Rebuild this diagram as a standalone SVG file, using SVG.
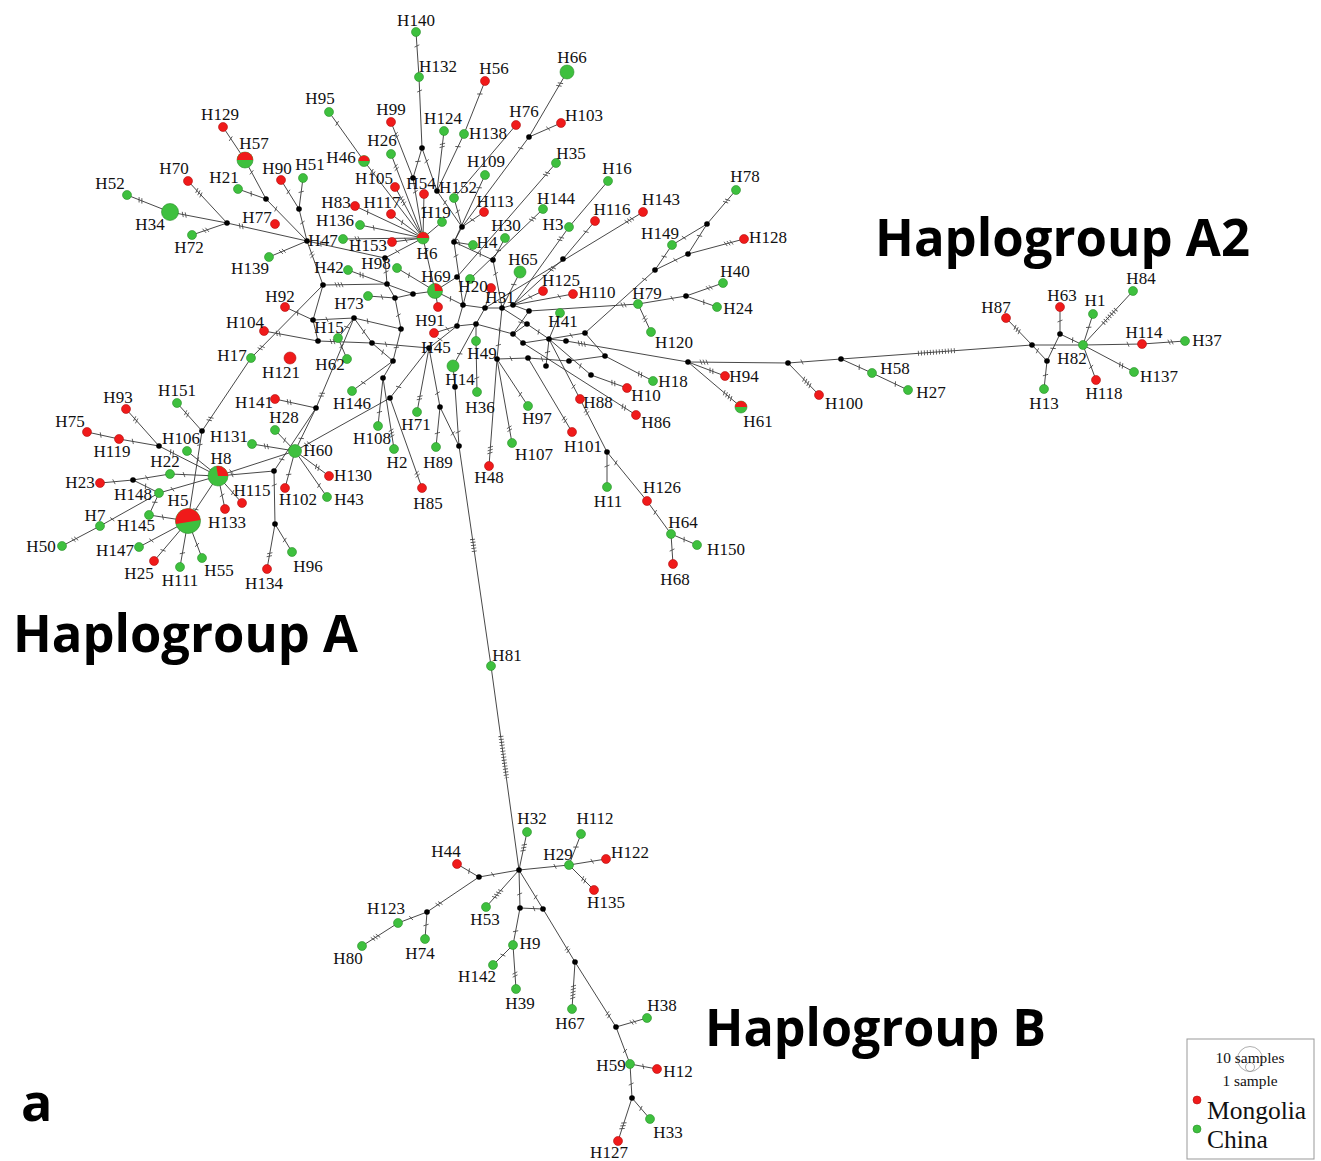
<svg xmlns="http://www.w3.org/2000/svg" width="1321" height="1161" viewBox="0 0 1321 1161">
<style>
.e{stroke:#333;stroke-width:0.9;fill:none}
.k1{marker-start:url(#t1)}.k2{marker-start:url(#t2)}.k3{marker-start:url(#t3)}.k4{marker-start:url(#t4)}.k5{marker-start:url(#t5)}
.tk{stroke:#444;stroke-width:0.8;fill:none}
.h{stroke:#444;stroke-width:5;stroke-dasharray:0.8 2.2;fill:none}
.g{fill:#3ec03e;stroke:#2a8f2a;stroke-width:0.6}
.r{fill:#f01a1a;stroke:#b01010;stroke-width:0.6}
.rp{fill:#f01a1a}
.m{fill:#000}
.lb{font-family:"Liberation Serif","Times New Roman",serif;font-size:17px;text-anchor:middle;fill:#111}
.title{font-family:"Open Sans","Liberation Sans",sans-serif;font-weight:bold;font-size:52px;fill:#000}
.lg{font-family:"Liberation Serif","Times New Roman",serif;fill:#111}
</style>
<defs>
<marker id="t1" markerUnits="userSpaceOnUse" orient="auto" markerWidth="10" markerHeight="10" style="overflow:visible"><path class="tk" d="M13,-2.5L15,2.5"/></marker>
<marker id="t2" markerUnits="userSpaceOnUse" orient="auto" markerWidth="10" markerHeight="10" style="overflow:visible"><path class="tk" d="M12,-2.5L14,2.5M15,-2.5L17,2.5"/></marker>
<marker id="t3" markerUnits="userSpaceOnUse" orient="auto" markerWidth="10" markerHeight="10" style="overflow:visible"><path class="tk" d="M12,-2.5L14,2.5M15,-2.5L17,2.5M18,-2.5L20,2.5"/></marker>
<marker id="t4" markerUnits="userSpaceOnUse" orient="auto" markerWidth="10" markerHeight="10" style="overflow:visible"><path class="tk" d="M12,-2.5L14,2.5M15,-2.5L17,2.5M18,-2.5L20,2.5M21,-2.5L23,2.5"/></marker>
<marker id="t5" markerUnits="userSpaceOnUse" orient="auto" markerWidth="10" markerHeight="10" style="overflow:visible"><path class="tk" d="M10,-2.5L12,2.5M13,-2.5L15,2.5M16,-2.5L18,2.5M19,-2.5L21,2.5M22,-2.5L24,2.5"/></marker>
</defs>
<rect width="1321" height="1161" fill="#fff"/>
<g id="connectors">
<line class="e k2" x1="127" y1="195" x2="170" y2="212"/>
<line class="e k2" x1="170" y1="212" x2="227" y2="223"/>
<line class="e k3" x1="188" y1="181" x2="227" y2="223"/>
<line class="e k2" x1="192" y1="235" x2="227" y2="223"/>
<line class="e k2" x1="227" y1="223" x2="307" y2="241"/>
<line class="e k1" x1="223" y1="127" x2="245" y2="160"/>
<line class="e k1" x1="245" y1="160" x2="266" y2="199"/>
<line class="e k1" x1="238" y1="189" x2="266" y2="199"/>
<line class="e k1" x1="266" y1="199" x2="307" y2="241"/>
<line class="e k1" x1="281" y1="180" x2="299" y2="209"/>
<line class="e k1" x1="303" y1="178" x2="299" y2="209"/>
<line class="e k1" x1="299" y1="209" x2="307" y2="241"/>
<line class="e k2" x1="269" y1="257" x2="307" y2="241"/>
<line class="e k2" x1="307" y1="241" x2="323" y2="285"/>
<line class="e k1" x1="307" y1="241" x2="385" y2="258"/>
<line class="e k1" x1="385" y1="258" x2="423" y2="238"/>
<line class="e k1" x1="385" y1="258" x2="387" y2="284"/>
<line class="e k3" x1="323" y1="285" x2="387" y2="284"/>
<line class="e k2" x1="251" y1="358" x2="323" y2="285"/>
<line class="e k2" x1="202" y1="431" x2="251" y2="358"/>
<line class="e k1" x1="285" y1="307" x2="313" y2="320"/>
<line class="e" x1="313" y1="320" x2="323" y2="285"/>
<line class="e k1" x1="313" y1="320" x2="354" y2="318"/>
<line class="e" x1="313" y1="320" x2="318" y2="341"/>
<line class="e k2" x1="264" y1="331" x2="318" y2="341"/>
<line class="e k2" x1="318" y1="341" x2="372" y2="343"/>
<line class="e k1" x1="347" y1="359" x2="338" y2="338"/>
<line class="e k1" x1="338" y1="338" x2="354" y2="318"/>
<line class="e k1" x1="354" y1="318" x2="401" y2="329"/>
<line class="e k2" x1="316" y1="408" x2="354" y2="318"/>
<line class="e k1" x1="295" y1="451" x2="316" y2="408"/>
<line class="e k2" x1="275" y1="399" x2="316" y2="408"/>
<line class="e k1" x1="274" y1="471" x2="316" y2="408"/>
<line class="e k1" x1="372" y1="343" x2="429" y2="348"/>
<line class="e k1" x1="372" y1="343" x2="393" y2="361"/>
<line class="e k1" x1="372" y1="343" x2="354" y2="318"/>
<line class="e k1" x1="352" y1="391" x2="393" y2="361"/>
<line class="e" x1="383" y1="378" x2="393" y2="361"/>
<line class="e k1" x1="378" y1="426" x2="383" y2="378"/>
<line class="e k3" x1="394" y1="449" x2="383" y2="378"/>
<line class="e k1" x1="393" y1="361" x2="401" y2="329"/>
<line class="e k1" x1="401" y1="329" x2="395" y2="298"/>
<line class="e" x1="395" y1="298" x2="387" y2="284"/>
<line class="e" x1="395" y1="298" x2="413" y2="294"/>
<line class="e k1" x1="368" y1="296" x2="395" y2="298"/>
<line class="e k2" x1="348" y1="270" x2="413" y2="294"/>
<line class="e" x1="413" y1="294" x2="435" y2="291"/>
<line class="e k1" x1="397" y1="268" x2="435" y2="291"/>
<line class="e k2" x1="422" y1="488" x2="390" y2="398"/>
<line class="e k2" x1="295" y1="451" x2="390" y2="398"/>
<line class="e k1" x1="390" y1="398" x2="429" y2="348"/>
<line class="e k1" x1="429" y1="348" x2="457" y2="326"/>
<line class="e k2" x1="417" y1="412" x2="429" y2="348"/>
<line class="e k1" x1="440" y1="407" x2="429" y2="348"/>
<line class="e k1" x1="436" y1="447" x2="440" y2="407"/>
<line class="e k1" x1="459" y1="446" x2="440" y2="407"/>
<line class="e k1" x1="459" y1="446" x2="455" y2="387"/>
<line class="e" x1="455" y1="387" x2="453" y2="366"/>
<line class="e k1" x1="453" y1="366" x2="476" y2="324"/>
<line class="e k1" x1="477" y1="392" x2="476" y2="341"/>
<line class="e" x1="476" y1="341" x2="476" y2="324"/>
<line class="e k3" x1="489" y1="466" x2="497" y2="359"/>
<line class="e k1" x1="497" y1="359" x2="502" y2="308"/>
<line class="e k1" x1="528" y1="406" x2="497" y2="359"/>
<line class="e k2" x1="512" y1="443" x2="497" y2="359"/>
<line class="e k1" x1="497" y1="359" x2="528" y2="358"/>
<line class="e k1" x1="528" y1="358" x2="569" y2="361"/>
<line class="e" x1="569" y1="361" x2="605" y2="356"/>
<line class="e k2" x1="653" y1="381" x2="605" y2="356"/>
<line class="e" x1="605" y1="356" x2="585" y2="333"/>
<line class="e k1" x1="585" y1="333" x2="549" y2="339"/>
<line class="e k1" x1="655" y1="270" x2="585" y2="333"/>
<line class="e k1" x1="546" y1="366" x2="549" y2="339"/>
<line class="e" x1="549" y1="339" x2="566" y2="341"/>
<line class="e k3" x1="566" y1="341" x2="688" y2="362"/>
<line class="e" x1="560" y1="313" x2="549" y2="339"/>
<line class="e k1" x1="580" y1="399" x2="549" y2="339"/>
<line class="e k2" x1="580" y1="399" x2="607" y2="452"/>
<line class="e k1" x1="607" y1="452" x2="607" y2="487"/>
<line class="e k1" x1="607" y1="452" x2="647" y2="501"/>
<line class="e k1" x1="647" y1="501" x2="671" y2="534"/>
<line class="e k1" x1="697" y1="545" x2="671" y2="534"/>
<line class="e k1" x1="673" y1="564" x2="671" y2="534"/>
<line class="e k2" x1="572" y1="432" x2="528" y2="358"/>
<line class="e k2" x1="627" y1="388" x2="591" y2="375"/>
<line class="e k1" x1="591" y1="375" x2="549" y2="339"/>
<line class="e k2" x1="636" y1="415" x2="523" y2="343"/>
<line class="e" x1="523" y1="343" x2="513" y2="334"/>
<line class="e" x1="523" y1="343" x2="549" y2="339"/>
<line class="e k2" x1="725" y1="376" x2="688" y2="362"/>
<line class="e k4" x1="741" y1="407" x2="688" y2="362"/>
<line class="e k3" x1="688" y1="362" x2="788" y2="363"/>
<line class="e k4" x1="819" y1="395" x2="788" y2="363"/>
<line class="e k1" x1="788" y1="363" x2="841" y2="359"/>
<line class="e k1" x1="872" y1="373" x2="841" y2="359"/>
<line class="e k1" x1="908" y1="390" x2="872" y2="373"/>
<line class="e" x1="841" y1="359" x2="1032" y2="345"/>
<line class="h" x1="918" y1="353.3" x2="956" y2="350.5"/>
<line class="e k3" x1="1006" y1="318" x2="1032" y2="345"/>
<line class="e" x1="1032" y1="345" x2="1083" y2="345"/>
<line class="e k1" x1="1047" y1="361" x2="1032" y2="345"/>
<line class="e k1" x1="1044" y1="389" x2="1047" y2="361"/>
<line class="e k1" x1="1047" y1="361" x2="1060" y2="334"/>
<line class="e k1" x1="1060" y1="307" x2="1060" y2="334"/>
<line class="e k1" x1="1060" y1="334" x2="1083" y2="345"/>
<line class="e k1" x1="1093" y1="314" x2="1083" y2="345"/>
<line class="e" x1="1133" y1="291" x2="1083" y2="345"/>
<line class="h" x1="1116" y1="309.4" x2="1102" y2="324.5"/>
<line class="e k1" x1="1142" y1="344" x2="1083" y2="345"/>
<line class="e k2" x1="1185" y1="341" x2="1142" y2="344"/>
<line class="e k2" x1="1134" y1="372" x2="1083" y2="345"/>
<line class="e k1" x1="1096" y1="380" x2="1083" y2="345"/>
<line class="e k2" x1="736" y1="190" x2="707" y2="224"/>
<line class="e k1" x1="672" y1="245" x2="707" y2="224"/>
<line class="e k1" x1="707" y1="224" x2="688" y2="254"/>
<line class="e k3" x1="744" y1="239" x2="688" y2="254"/>
<line class="e k1" x1="688" y1="254" x2="655" y2="270"/>
<line class="e k1" x1="672" y1="245" x2="655" y2="270"/>
<line class="e k2" x1="723" y1="283" x2="686" y2="296"/>
<line class="e k1" x1="717" y1="307" x2="686" y2="296"/>
<line class="e k1" x1="686" y1="296" x2="638" y2="304"/>
<line class="e k2" x1="651" y1="332" x2="638" y2="304"/>
<line class="e k2" x1="638" y1="304" x2="529" y2="311"/>
<line class="e" x1="608" y1="181" x2="569" y2="227"/>
<line class="e k2" x1="569" y1="227" x2="513" y2="305"/>
<line class="e k1" x1="595" y1="221" x2="563" y2="259"/>
<line class="e k2" x1="563" y1="259" x2="513" y2="305"/>
<line class="e k3" x1="643" y1="212" x2="485" y2="308"/>
<line class="e k1" x1="573" y1="294" x2="513" y2="305"/>
<line class="e k1" x1="543" y1="291" x2="513" y2="305"/>
<line class="e k1" x1="520" y1="272" x2="502" y2="308"/>
<line class="e" x1="513" y1="305" x2="502" y2="308"/>
<line class="e" x1="502" y1="308" x2="485" y2="308"/>
<line class="e" x1="485" y1="308" x2="463" y2="305"/>
<line class="e k1" x1="463" y1="305" x2="435" y2="291"/>
<line class="e" x1="529" y1="311" x2="513" y2="305"/>
<line class="e k1" x1="529" y1="311" x2="513" y2="334"/>
<line class="e" x1="527" y1="324" x2="513" y2="334"/>
<line class="e k1" x1="527" y1="324" x2="549" y2="339"/>
<line class="e" x1="527" y1="324" x2="502" y2="308"/>
<line class="e k1" x1="513" y1="334" x2="476" y2="324"/>
<line class="e" x1="476" y1="324" x2="485" y2="308"/>
<line class="e" x1="457" y1="326" x2="463" y2="305"/>
<line class="e" x1="457" y1="326" x2="476" y2="324"/>
<line class="e k2" x1="543" y1="209" x2="470" y2="279"/>
<line class="e" x1="470" y1="279" x2="463" y2="305"/>
<line class="e k2" x1="556" y1="163" x2="457" y2="277"/>
<line class="e" x1="457" y1="277" x2="435" y2="291"/>
<line class="e k1" x1="438" y1="307" x2="435" y2="291"/>
<line class="e k1" x1="434" y1="333" x2="457" y2="326"/>
<line class="e" x1="491" y1="288" x2="485" y2="308"/>
<line class="e" x1="459" y1="446" x2="491" y2="666"/>
<line class="h" x1="472.5" y1="539" x2="474.5" y2="553"/>
<line class="e" x1="491" y1="666" x2="519" y2="870"/>
<line class="h" x1="500.9" y1="736" x2="506.6" y2="778"/>
<line class="e k1" x1="416" y1="32" x2="419" y2="77"/>
<line class="e k1" x1="419" y1="77" x2="422" y2="148"/>
<line class="e k1" x1="422" y1="148" x2="413" y2="178"/>
<line class="e k1" x1="422" y1="148" x2="437" y2="191"/>
<line class="e k2" x1="391" y1="122" x2="413" y2="178"/>
<line class="e k1" x1="413" y1="178" x2="423" y2="238"/>
<line class="e k2" x1="444" y1="131" x2="437" y2="191"/>
<line class="e k1" x1="485" y1="81" x2="464" y2="134"/>
<line class="e k1" x1="464" y1="134" x2="437" y2="191"/>
<line class="e k1" x1="437" y1="191" x2="462" y2="227"/>
<line class="e" x1="516" y1="125" x2="454" y2="198"/>
<line class="e k1" x1="454" y1="198" x2="462" y2="227"/>
<line class="e k2" x1="567" y1="72" x2="529" y2="137"/>
<line class="e k1" x1="561" y1="123" x2="529" y2="137"/>
<line class="e k1" x1="529" y1="137" x2="462" y2="227"/>
<line class="e k1" x1="485" y1="175" x2="454" y2="242"/>
<line class="e k1" x1="484" y1="212" x2="462" y2="227"/>
<line class="e k1" x1="462" y1="227" x2="454" y2="242"/>
<line class="e k1" x1="473" y1="245" x2="454" y2="242"/>
<line class="e k1" x1="505" y1="238" x2="493" y2="260"/>
<line class="e k1" x1="493" y1="260" x2="454" y2="242"/>
<line class="e k1" x1="493" y1="260" x2="502" y2="308"/>
<line class="e k1" x1="454" y1="242" x2="463" y2="305"/>
<line class="e k2" x1="391" y1="154" x2="423" y2="238"/>
<line class="e k1" x1="329" y1="112" x2="364" y2="161"/>
<line class="e k2" x1="364" y1="161" x2="423" y2="238"/>
<line class="e k3" x1="395" y1="187" x2="423" y2="238"/>
<line class="e k1" x1="424" y1="194" x2="423" y2="238"/>
<line class="e k1" x1="355" y1="206" x2="423" y2="238"/>
<line class="e k1" x1="391" y1="214" x2="423" y2="238"/>
<line class="e k1" x1="360" y1="225" x2="423" y2="238"/>
<line class="e k1" x1="392" y1="242" x2="423" y2="238"/>
<line class="e" x1="442" y1="222" x2="423" y2="238"/>
<line class="e k2" x1="343" y1="239" x2="423" y2="238"/>
<line class="e k1" x1="423" y1="238" x2="435" y2="291"/>
<line class="e k2" x1="177" y1="403" x2="202" y2="431"/>
<line class="e k1" x1="202" y1="431" x2="188" y2="521"/>
<line class="e k2" x1="126" y1="409" x2="159" y2="446"/>
<line class="e k1" x1="87" y1="432" x2="119" y2="439"/>
<line class="e k1" x1="119" y1="439" x2="159" y2="446"/>
<line class="e k2" x1="159" y1="446" x2="218" y2="476"/>
<line class="e k1" x1="187" y1="451" x2="218" y2="476"/>
<line class="e k1" x1="100" y1="483" x2="133" y2="480"/>
<line class="e k1" x1="133" y1="480" x2="170" y2="474"/>
<line class="e k1" x1="170" y1="474" x2="218" y2="476"/>
<line class="e k1" x1="133" y1="480" x2="159" y2="493"/>
<line class="e k1" x1="159" y1="493" x2="218" y2="476"/>
<line class="e k1" x1="100" y1="526" x2="159" y2="493"/>
<line class="e k2" x1="62" y1="546" x2="100" y2="526"/>
<line class="e k1" x1="149" y1="515" x2="159" y2="493"/>
<line class="e k1" x1="149" y1="515" x2="188" y2="521"/>
<line class="e k1" x1="188" y1="521" x2="218" y2="476"/>
<line class="e k1" x1="139" y1="547" x2="188" y2="521"/>
<line class="e k1" x1="154" y1="561" x2="188" y2="521"/>
<line class="e k1" x1="180" y1="567" x2="188" y2="521"/>
<line class="e k1" x1="202" y1="558" x2="188" y2="521"/>
<line class="e k1" x1="242" y1="503" x2="218" y2="476"/>
<line class="e k1" x1="225" y1="509" x2="218" y2="476"/>
<line class="e k1" x1="218" y1="476" x2="274" y2="471"/>
<line class="e k1" x1="274" y1="471" x2="275" y2="524"/>
<line class="e k2" x1="267" y1="569" x2="275" y2="524"/>
<line class="e k1" x1="292" y1="552" x2="275" y2="524"/>
<line class="e k1" x1="218" y1="476" x2="295" y2="451"/>
<line class="e k1" x1="275" y1="430" x2="295" y2="451"/>
<line class="e k2" x1="252" y1="444" x2="295" y2="451"/>
<line class="e k2" x1="329" y1="476" x2="295" y2="451"/>
<line class="e k1" x1="327" y1="497" x2="295" y2="451"/>
<line class="e k1" x1="285" y1="488" x2="295" y2="451"/>
<line class="e k3" x1="527" y1="832" x2="519" y2="870"/>
<line class="e k1" x1="569" y1="865" x2="519" y2="870"/>
<line class="e k1" x1="581" y1="834" x2="569" y2="865"/>
<line class="e k1" x1="606" y1="859" x2="569" y2="865"/>
<line class="e k2" x1="594" y1="890" x2="569" y2="865"/>
<line class="e k1" x1="479" y1="877" x2="519" y2="870"/>
<line class="e k1" x1="457" y1="864" x2="479" y2="877"/>
<line class="e k2" x1="427" y1="912" x2="479" y2="877"/>
<line class="e k1" x1="398" y1="923" x2="427" y2="912"/>
<line class="e k3" x1="362" y1="946" x2="398" y2="923"/>
<line class="e k1" x1="425" y1="939" x2="427" y2="912"/>
<line class="e k4" x1="486" y1="907" x2="519" y2="870"/>
<line class="e k1" x1="520" y1="908" x2="519" y2="870"/>
<line class="e k1" x1="520" y1="908" x2="543" y2="909"/>
<line class="e k1" x1="513" y1="945" x2="520" y2="908"/>
<line class="e k1" x1="493" y1="965" x2="513" y2="945"/>
<line class="e k2" x1="516" y1="989" x2="513" y2="945"/>
<line class="e k1" x1="543" y1="909" x2="519" y2="870"/>
<line class="e k2" x1="575" y1="962" x2="543" y2="909"/>
<line class="e k5" x1="572" y1="1009" x2="575" y2="962"/>
<line class="e k2" x1="616" y1="1027" x2="575" y2="962"/>
<line class="e k2" x1="647" y1="1018" x2="616" y2="1027"/>
<line class="e k1" x1="630" y1="1064" x2="616" y2="1027"/>
<line class="e k1" x1="657" y1="1069" x2="630" y2="1064"/>
<line class="e k1" x1="632" y1="1098" x2="630" y2="1064"/>
<line class="e k1" x1="650" y1="1119" x2="632" y2="1098"/>
<line class="e k3" x1="618" y1="1141" x2="632" y2="1098"/>
</g>
<g id="medians">
<circle class="m" cx="227" cy="223" r="2.8"/><circle class="m" cx="266" cy="199" r="2.8"/><circle class="m" cx="299" cy="209" r="2.8"/><circle class="m" cx="307" cy="241" r="2.8"/>
<circle class="m" cx="323" cy="285" r="2.8"/><circle class="m" cx="313" cy="320" r="2.8"/><circle class="m" cx="318" cy="341" r="2.8"/><circle class="m" cx="354" cy="318" r="2.8"/>
<circle class="m" cx="372" cy="343" r="2.8"/><circle class="m" cx="393" cy="361" r="2.8"/><circle class="m" cx="383" cy="378" r="2.8"/><circle class="m" cx="390" cy="398" r="2.8"/>
<circle class="m" cx="401" cy="329" r="2.8"/><circle class="m" cx="387" cy="284" r="2.8"/><circle class="m" cx="395" cy="298" r="2.8"/><circle class="m" cx="413" cy="294" r="2.8"/>
<circle class="m" cx="385" cy="258" r="2.8"/><circle class="m" cx="422" cy="148" r="2.8"/><circle class="m" cx="413" cy="178" r="2.8"/><circle class="m" cx="437" cy="191" r="2.8"/>
<circle class="m" cx="462" cy="227" r="2.8"/><circle class="m" cx="454" cy="242" r="2.8"/><circle class="m" cx="493" cy="260" r="2.8"/><circle class="m" cx="529" cy="137" r="2.8"/>
<circle class="m" cx="563" cy="259" r="2.8"/><circle class="m" cx="655" cy="270" r="2.8"/><circle class="m" cx="707" cy="224" r="2.8"/><circle class="m" cx="688" cy="254" r="2.8"/>
<circle class="m" cx="686" cy="296" r="2.8"/><circle class="m" cx="463" cy="305" r="2.8"/><circle class="m" cx="485" cy="308" r="2.8"/><circle class="m" cx="502" cy="308" r="2.8"/>
<circle class="m" cx="513" cy="305" r="2.8"/><circle class="m" cx="529" cy="311" r="2.8"/><circle class="m" cx="457" cy="326" r="2.8"/><circle class="m" cx="476" cy="324" r="2.8"/>
<circle class="m" cx="527" cy="324" r="2.8"/><circle class="m" cx="513" cy="334" r="2.8"/><circle class="m" cx="429" cy="348" r="2.8"/><circle class="m" cx="497" cy="359" r="2.8"/>
<circle class="m" cx="455" cy="387" r="2.8"/><circle class="m" cx="440" cy="407" r="2.8"/><circle class="m" cx="459" cy="446" r="2.8"/><circle class="m" cx="316" cy="408" r="2.8"/>
<circle class="m" cx="202" cy="431" r="2.8"/><circle class="m" cx="159" cy="446" r="2.8"/><circle class="m" cx="133" cy="480" r="2.8"/><circle class="m" cx="274" cy="471" r="2.8"/>
<circle class="m" cx="275" cy="524" r="2.8"/><circle class="m" cx="549" cy="339" r="2.8"/><circle class="m" cx="585" cy="333" r="2.8"/><circle class="m" cx="566" cy="341" r="2.8"/>
<circle class="m" cx="523" cy="343" r="2.8"/><circle class="m" cx="528" cy="358" r="2.8"/><circle class="m" cx="546" cy="366" r="2.8"/><circle class="m" cx="569" cy="361" r="2.8"/>
<circle class="m" cx="605" cy="356" r="2.8"/><circle class="m" cx="591" cy="375" r="2.8"/><circle class="m" cx="688" cy="362" r="2.8"/><circle class="m" cx="788" cy="363" r="2.8"/>
<circle class="m" cx="841" cy="359" r="2.8"/><circle class="m" cx="607" cy="452" r="2.8"/><circle class="m" cx="1032" cy="345" r="2.8"/><circle class="m" cx="1060" cy="334" r="2.8"/>
<circle class="m" cx="1047" cy="361" r="2.8"/><circle class="m" cx="457" cy="277" r="2.8"/>
<circle class="m" cx="519" cy="870" r="2.8"/><circle class="m" cx="479" cy="877" r="2.8"/><circle class="m" cx="427" cy="912" r="2.8"/><circle class="m" cx="520" cy="908" r="2.8"/>
<circle class="m" cx="543" cy="909" r="2.8"/><circle class="m" cx="575" cy="962" r="2.8"/><circle class="m" cx="616" cy="1027" r="2.8"/><circle class="m" cx="632" cy="1098" r="2.8"/>
</g>
<g id="nodes">
<g id="H140"><circle class="g" cx="416" cy="32" r="4.5"/><text class="lb" x="416" y="26">H140</text></g>
<g id="H132"><circle class="g" cx="419" cy="77" r="4.5"/><text class="lb" x="438" y="72">H132</text></g>
<g id="H56"><circle class="r" cx="485" cy="81" r="4.5"/><text class="lb" x="494" y="74">H56</text></g>
<g id="H66"><circle class="g" cx="567" cy="72" r="7"/><text class="lb" x="572" y="63">H66</text></g>
<g id="H95"><circle class="g" cx="329" cy="112" r="4.5"/><text class="lb" x="320" y="104">H95</text></g>
<g id="H99"><circle class="r" cx="391" cy="122" r="4.5"/><text class="lb" x="391" y="115">H99</text></g>
<g id="H124"><circle class="g" cx="444" cy="131" r="4.5"/><text class="lb" x="443" y="124">H124</text></g>
<g id="H138"><circle class="g" cx="464" cy="134" r="4.5"/><text class="lb" x="488" y="139">H138</text></g>
<g id="H76"><circle class="r" cx="516" cy="125" r="4.5"/><text class="lb" x="524" y="117">H76</text></g>
<g id="H103"><circle class="r" cx="561" cy="123" r="4.5"/><text class="lb" x="584" y="121">H103</text></g>
<g id="H129"><circle class="r" cx="223" cy="127" r="4.5"/><text class="lb" x="220" y="120">H129</text></g>
<g id="H57"><circle class="g" cx="245" cy="160" r="8"/><path class="rp" d="M237,160A8,8 0 0 1 253,160Z"/><text class="lb" x="254" y="149">H57</text></g>
<g id="H26"><circle class="g" cx="391" cy="154" r="4.5"/><text class="lb" x="382" y="146">H26</text></g>
<g id="H46"><circle class="g" cx="364" cy="161" r="5.5"/><path class="rp" d="M358.5,161A5.5,5.5 0 0 1 369.5,161Z"/><text class="lb" x="341" y="163">H46</text></g>
<g id="H109"><circle class="g" cx="485" cy="175" r="4.5"/><text class="lb" x="486" y="167">H109</text></g>
<g id="H35"><circle class="g" cx="556" cy="163" r="4.5"/><text class="lb" x="571" y="159">H35</text></g>
<g id="H16"><circle class="g" cx="608" cy="181" r="4.5"/><text class="lb" x="617" y="174">H16</text></g>
<g id="H70"><circle class="r" cx="188" cy="181" r="4.5"/><text class="lb" x="174" y="174">H70</text></g>
<g id="H21"><circle class="g" cx="238" cy="189" r="4.5"/><text class="lb" x="224" y="183">H21</text></g>
<g id="H90"><circle class="r" cx="281" cy="180" r="4.5"/><text class="lb" x="277" y="174">H90</text></g>
<g id="H51"><circle class="g" cx="303" cy="178" r="4.5"/><text class="lb" x="310" y="170">H51</text></g>
<g id="H52"><circle class="g" cx="127" cy="195" r="4.5"/><text class="lb" x="110" y="189">H52</text></g>
<g id="H34"><circle class="g" cx="170" cy="212" r="8.5"/><text class="lb" x="150" y="230">H34</text></g>
<g id="H72"><circle class="g" cx="192" cy="235" r="4.5"/><text class="lb" x="189" y="253">H72</text></g>
<g id="H77"><circle class="r" cx="275" cy="224" r="4.5"/><text class="lb" x="257" y="223">H77</text></g>
<g id="H139"><circle class="g" cx="269" cy="257" r="4.5"/><text class="lb" x="250" y="274">H139</text></g>
<g id="H105"><circle class="r" cx="395" cy="187" r="4.5"/><text class="lb" x="374" y="184">H105</text></g>
<g id="H54"><circle class="r" cx="424" cy="194" r="4.5"/><text class="lb" x="421" y="189">H54</text></g>
<g id="H152"><circle class="g" cx="454" cy="198" r="4.5"/><text class="lb" x="458" y="193">H152</text></g>
<g id="H83"><circle class="r" cx="355" cy="206" r="4.5"/><text class="lb" x="336" y="208">H83</text></g>
<g id="H117"><circle class="r" cx="391" cy="214" r="4.5"/><text class="lb" x="382" y="208">H117</text></g>
<g id="H136"><circle class="g" cx="360" cy="225" r="4.5"/><text class="lb" x="335" y="226">H136</text></g>
<g id="H113"><circle class="r" cx="484" cy="212" r="4.5"/><text class="lb" x="495" y="207">H113</text></g>
<g id="H144"><circle class="g" cx="543" cy="209" r="4.5"/><text class="lb" x="556" y="204">H144</text></g>
<g id="H143"><circle class="r" cx="643" cy="212" r="4.5"/><text class="lb" x="661" y="205">H143</text></g>
<g id="H78"><circle class="g" cx="736" cy="190" r="4.5"/><text class="lb" x="745" y="182">H78</text></g>
<g id="H116"><circle class="r" cx="595" cy="221" r="4.5"/><text class="lb" x="612" y="215">H116</text></g>
<g id="H3"><circle class="g" cx="569" cy="227" r="4.5"/><text class="lb" x="553" y="230">H3</text></g>
<g id="H19"><circle class="g" cx="442" cy="222" r="4.5"/><text class="lb" x="436" y="218">H19</text></g>
<g id="H30"><circle class="g" cx="505" cy="238" r="4.5"/><text class="lb" x="506" y="231">H30</text></g>
<g id="H4"><circle class="g" cx="473" cy="245" r="4.5"/><text class="lb" x="487" y="248">H4</text></g>
<g id="H6"><circle class="g" cx="423" cy="238" r="6"/><path class="rp" d="M417,238A6,6 0 0 1 429,238Z"/><text class="lb" x="427" y="259">H6</text></g>
<g id="H153"><circle class="r" cx="392" cy="242" r="4.5"/><text class="lb" x="368" y="251">H153</text></g>
<g id="H47"><circle class="g" cx="343" cy="239" r="4.5"/><text class="lb" x="323" y="246">H47</text></g>
<g id="H149"><circle class="g" cx="672" cy="245" r="4.5"/><text class="lb" x="660" y="239">H149</text></g>
<g id="H128"><circle class="r" cx="744" cy="239" r="4.5"/><text class="lb" x="768" y="243">H128</text></g>
<g id="H98"><circle class="g" cx="397" cy="268" r="4.5"/><text class="lb" x="376" y="269">H98</text></g>
<g id="H42"><circle class="g" cx="348" cy="270" r="4.5"/><text class="lb" x="329" y="273">H42</text></g>
<g id="H65"><circle class="g" cx="520" cy="272" r="6"/><text class="lb" x="523" y="265">H65</text></g>
<g id="H40"><circle class="g" cx="723" cy="283" r="4.5"/><text class="lb" x="735" y="277">H40</text></g>
<g id="H69"><circle class="g" cx="435" cy="291" r="7.5"/><path class="rp" d="M435,291L434.3,283.5A7.5,7.5 0 0 1 442.5,291Z"/><text class="lb" x="436" y="282">H69</text></g>
<g id="H20"><circle class="g" cx="470" cy="279" r="4.5"/><circle class="r" cx="491" cy="288" r="4.5"/><text class="lb" x="473" y="292">H20</text></g>
<g id="H31"><text class="lb" x="500" y="303">H31</text></g>
<g id="H125"><circle class="r" cx="543" cy="291" r="4.5"/><text class="lb" x="561" y="286">H125</text></g>
<g id="H110"><circle class="r" cx="573" cy="294" r="4.5"/><text class="lb" x="597" y="298">H110</text></g>
<g id="H79"><circle class="g" cx="638" cy="304" r="4.5"/><text class="lb" x="647" y="299">H79</text></g>
<g id="H24"><circle class="g" cx="717" cy="307" r="4.5"/><text class="lb" x="738" y="314">H24</text></g>
<g id="H92"><circle class="r" cx="285" cy="307" r="4.5"/><text class="lb" x="280" y="302">H92</text></g>
<g id="H73"><circle class="g" cx="368" cy="296" r="4.5"/><text class="lb" x="349" y="309">H73</text></g>
<g id="H91"><circle class="r" cx="438" cy="307" r="4.5"/><circle class="r" cx="434" cy="333" r="4.5"/><text class="lb" x="430" y="326">H91</text></g>
<g id="H41"><circle class="g" cx="560" cy="313" r="4.5"/><text class="lb" x="563" y="327">H41</text></g>
<g id="H104"><circle class="r" cx="264" cy="331" r="4.5"/><text class="lb" x="245" y="328">H104</text></g>
<g id="H15"><circle class="g" cx="338" cy="338" r="4.5"/><text class="lb" x="329" y="333">H15</text></g>
<g id="H120"><circle class="g" cx="651" cy="332" r="4.5"/><text class="lb" x="674" y="348">H120</text></g>
<g id="H45"><text class="lb" x="436" y="353">H45</text></g>
<g id="H49"><circle class="g" cx="476" cy="341" r="4.5"/><text class="lb" x="482" y="359">H49</text></g>
<g id="H17"><circle class="g" cx="251" cy="358" r="4.5"/><text class="lb" x="232" y="361">H17</text></g>
<g id="H121"><circle class="r" cx="290" cy="358" r="6"/><text class="lb" x="281" y="378">H121</text></g>
<g id="H62"><circle class="g" cx="347" cy="359" r="4.5"/><text class="lb" x="330" y="370">H62</text></g>
<g id="H14"><circle class="g" cx="453" cy="366" r="6"/><text class="lb" x="460" y="385">H14</text></g>
<g id="H18"><circle class="g" cx="653" cy="381" r="4.5"/><text class="lb" x="673" y="387">H18</text></g>
<g id="H94"><circle class="r" cx="725" cy="376" r="4.5"/><text class="lb" x="744" y="382">H94</text></g>
<g id="H10"><circle class="r" cx="627" cy="388" r="4.5"/><text class="lb" x="646" y="401">H10</text></g>
<g id="H36"><circle class="g" cx="477" cy="392" r="4.5"/><text class="lb" x="480" y="413">H36</text></g>
<g id="H146"><circle class="g" cx="352" cy="391" r="4.5"/><text class="lb" x="352" y="409">H146</text></g>
<g id="H141"><circle class="r" cx="275" cy="399" r="4.5"/><text class="lb" x="254" y="408">H141</text></g>
<g id="H88"><circle class="r" cx="580" cy="399" r="4.5"/><text class="lb" x="598" y="408">H88</text></g>
<g id="H100"><circle class="r" cx="819" cy="395" r="4.5"/><text class="lb" x="844" y="409">H100</text></g>
<g id="H58"><circle class="g" cx="872" cy="373" r="4.5"/><text class="lb" x="895" y="374">H58</text></g>
<g id="H27"><circle class="g" cx="908" cy="390" r="4.5"/><text class="lb" x="931" y="398">H27</text></g>
<g id="H97"><circle class="g" cx="528" cy="406" r="4.5"/><text class="lb" x="537" y="424">H97</text></g>
<g id="H71"><circle class="g" cx="417" cy="412" r="4.5"/><text class="lb" x="416" y="430">H71</text></g>
<g id="H86"><circle class="r" cx="636" cy="415" r="4.5"/><text class="lb" x="656" y="428">H86</text></g>
<g id="H61"><circle class="g" cx="741" cy="407" r="6"/><path class="rp" d="M735,407A6,6 0 0 1 747,407Z"/><text class="lb" x="758" y="427">H61</text></g>
<g id="H108"><circle class="g" cx="378" cy="426" r="4.5"/><text class="lb" x="372" y="444">H108</text></g>
<g id="H28"><circle class="g" cx="275" cy="430" r="4.5"/><text class="lb" x="284" y="423">H28</text></g>
<g id="H101"><circle class="r" cx="572" cy="432" r="4.5"/><text class="lb" x="583" y="452">H101</text></g>
<g id="H131"><circle class="g" cx="252" cy="444" r="4.5"/><text class="lb" x="229" y="442">H131</text></g>
<g id="H60"><circle class="g" cx="295" cy="451" r="6.5"/><text class="lb" x="318" y="456">H60</text></g>
<g id="H107"><circle class="g" cx="512" cy="443" r="4.5"/><text class="lb" x="534" y="460">H107</text></g>
<g id="H2"><circle class="g" cx="394" cy="449" r="4.5"/><text class="lb" x="397" y="468">H2</text></g>
<g id="H89"><circle class="g" cx="436" cy="447" r="4.5"/><text class="lb" x="438" y="468">H89</text></g>
<g id="H48"><circle class="r" cx="489" cy="466" r="4.5"/><text class="lb" x="489" y="483">H48</text></g>
<g id="H130"><circle class="r" cx="329" cy="476" r="4.5"/><text class="lb" x="353" y="481">H130</text></g>
<g id="H43"><circle class="g" cx="327" cy="497" r="4.5"/><text class="lb" x="349" y="505">H43</text></g>
<g id="H102"><circle class="r" cx="285" cy="488" r="4.5"/><text class="lb" x="298" y="505">H102</text></g>
<g id="H85"><circle class="r" cx="422" cy="488" r="4.5"/><text class="lb" x="428" y="509">H85</text></g>
<g id="H11"><circle class="g" cx="607" cy="487" r="4.5"/><text class="lb" x="608" y="507">H11</text></g>
<g id="H126"><circle class="r" cx="647" cy="501" r="4.5"/><text class="lb" x="662" y="493">H126</text></g>
<g id="H64"><circle class="g" cx="671" cy="534" r="4.5"/><text class="lb" x="683" y="528">H64</text></g>
<g id="H150"><circle class="g" cx="697" cy="545" r="4.5"/><text class="lb" x="726" y="555">H150</text></g>
<g id="H68"><circle class="r" cx="673" cy="564" r="4.5"/><text class="lb" x="675" y="585">H68</text></g>
<g id="H151"><circle class="g" cx="177" cy="403" r="4.5"/><text class="lb" x="177" y="396">H151</text></g>
<g id="H93"><circle class="r" cx="126" cy="409" r="4.5"/><text class="lb" x="118" y="403">H93</text></g>
<g id="H75"><circle class="r" cx="87" cy="432" r="4.5"/><text class="lb" x="70" y="427">H75</text></g>
<g id="H119"><circle class="r" cx="119" cy="439" r="4.5"/><text class="lb" x="112" y="457">H119</text></g>
<g id="H106"><circle class="g" cx="187" cy="451" r="4.5"/><text class="lb" x="181" y="444">H106</text></g>
<g id="H22"><circle class="g" cx="170" cy="474" r="4.5"/><text class="lb" x="165" y="467">H22</text></g>
<g id="H8"><circle class="g" cx="218" cy="476" r="10"/><path class="rp" d="M218,476L216.3,466.2A10,10 0 0 1 228,476Z"/><text class="lb" x="221" y="464">H8</text></g>
<g id="H23"><circle class="r" cx="100" cy="483" r="4.5"/><text class="lb" x="80" y="488">H23</text></g>
<g id="H148"><circle class="g" cx="159" cy="493" r="4.5"/><text class="lb" x="133" y="500">H148</text></g>
<g id="H115"><circle class="r" cx="242" cy="503" r="4.5"/><text class="lb" x="252" y="496">H115</text></g>
<g id="H133"><circle class="r" cx="225" cy="509" r="4.5"/><text class="lb" x="227" y="528">H133</text></g>
<g id="H5"><circle class="g" cx="188" cy="521" r="12.5"/><path class="rp" d="M175.9,524A12.5,12.5 0 1 1 200.5,519.9Z"/><text class="lb" x="178" y="506">H5</text></g>
<g id="H145"><circle class="g" cx="149" cy="515" r="4.5"/><text class="lb" x="136" y="531">H145</text></g>
<g id="H7"><circle class="g" cx="100" cy="526" r="4.5"/><text class="lb" x="95" y="521">H7</text></g>
<g id="H50"><circle class="g" cx="62" cy="546" r="4.5"/><text class="lb" x="41" y="552">H50</text></g>
<g id="H147"><circle class="g" cx="139" cy="547" r="4.5"/><text class="lb" x="115" y="556">H147</text></g>
<g id="H25"><circle class="r" cx="154" cy="561" r="4.5"/><text class="lb" x="139" y="579">H25</text></g>
<g id="H111"><circle class="g" cx="180" cy="567" r="4.5"/><text class="lb" x="180" y="586">H111</text></g>
<g id="H55"><circle class="g" cx="202" cy="558" r="4.5"/><text class="lb" x="219" y="576">H55</text></g>
<g id="H134"><circle class="r" cx="267" cy="569" r="4.5"/><text class="lb" x="264" y="589">H134</text></g>
<g id="H96"><circle class="g" cx="292" cy="552" r="4.5"/><text class="lb" x="308" y="572">H96</text></g>
<g id="H81"><circle class="g" cx="491" cy="666" r="4.5"/><text class="lb" x="507" y="661">H81</text></g>
<g id="H87"><circle class="r" cx="1006" cy="318" r="4.5"/><text class="lb" x="996" y="313">H87</text></g>
<g id="H63"><circle class="r" cx="1060" cy="307" r="4.5"/><text class="lb" x="1062" y="301">H63</text></g>
<g id="H1"><circle class="g" cx="1093" cy="314" r="4.5"/><text class="lb" x="1095" y="306">H1</text></g>
<g id="H84"><circle class="g" cx="1133" cy="291" r="4.5"/><text class="lb" x="1141" y="284">H84</text></g>
<g id="H82"><circle class="g" cx="1083" cy="345" r="4.5"/><text class="lb" x="1072" y="364">H82</text></g>
<g id="H114"><circle class="r" cx="1142" cy="344" r="4.5"/><text class="lb" x="1144" y="338">H114</text></g>
<g id="H37"><circle class="g" cx="1185" cy="341" r="4.5"/><text class="lb" x="1207" y="346">H37</text></g>
<g id="H137"><circle class="g" cx="1134" cy="372" r="4.5"/><text class="lb" x="1159" y="382">H137</text></g>
<g id="H118"><circle class="r" cx="1096" cy="380" r="4.5"/><text class="lb" x="1104" y="399">H118</text></g>
<g id="H13"><circle class="g" cx="1044" cy="389" r="4.5"/><text class="lb" x="1044" y="409">H13</text></g>
<g id="H32"><circle class="g" cx="527" cy="832" r="4.5"/><text class="lb" x="532" y="824">H32</text></g>
<g id="H112"><circle class="g" cx="581" cy="834" r="4.5"/><text class="lb" x="595" y="824">H112</text></g>
<g id="H29"><circle class="g" cx="569" cy="865" r="4.5"/><text class="lb" x="558" y="860">H29</text></g>
<g id="H122"><circle class="r" cx="606" cy="859" r="4.5"/><text class="lb" x="630" y="858">H122</text></g>
<g id="H135"><circle class="r" cx="594" cy="890" r="4.5"/><text class="lb" x="606" y="908">H135</text></g>
<g id="H44"><circle class="r" cx="457" cy="864" r="4.5"/><text class="lb" x="446" y="857">H44</text></g>
<g id="H123"><circle class="g" cx="398" cy="923" r="4.5"/><text class="lb" x="386" y="914">H123</text></g>
<g id="H80"><circle class="g" cx="362" cy="946" r="4.5"/><text class="lb" x="348" y="964">H80</text></g>
<g id="H74"><circle class="g" cx="425" cy="939" r="4.5"/><text class="lb" x="420" y="959">H74</text></g>
<g id="H53"><circle class="g" cx="486" cy="907" r="4.5"/><text class="lb" x="485" y="925">H53</text></g>
<g id="H9"><circle class="g" cx="513" cy="945" r="4.5"/><text class="lb" x="530" y="949">H9</text></g>
<g id="H142"><circle class="g" cx="493" cy="965" r="4.5"/><text class="lb" x="477" y="982">H142</text></g>
<g id="H39"><circle class="g" cx="516" cy="989" r="4.5"/><text class="lb" x="520" y="1009">H39</text></g>
<g id="H67"><circle class="g" cx="572" cy="1009" r="4.5"/><text class="lb" x="570" y="1029">H67</text></g>
<g id="H38"><circle class="g" cx="647" cy="1018" r="4.5"/><text class="lb" x="662" y="1011">H38</text></g>
<g id="H59"><circle class="g" cx="630" cy="1064" r="4.5"/><text class="lb" x="611" y="1071">H59</text></g>
<g id="H12"><circle class="r" cx="657" cy="1069" r="4.5"/><text class="lb" x="678" y="1077">H12</text></g>
<g id="H33"><circle class="g" cx="650" cy="1119" r="4.5"/><text class="lb" x="668" y="1138">H33</text></g>
<g id="H127"><circle class="r" cx="618" cy="1141" r="4.5"/><text class="lb" x="609" y="1158">H127</text></g>
</g>
<g id="titles">
<text class="title" x="875" y="256" textLength="375" lengthAdjust="spacingAndGlyphs">Haplogroup A2</text>
<text class="title" x="13" y="652" textLength="345" lengthAdjust="spacingAndGlyphs">Haplogroup A</text>
<text class="title" x="705" y="1046" textLength="341" lengthAdjust="spacingAndGlyphs">Haplogroup B</text>
<text class="title" x="21" y="1121">a</text>
</g>
<g id="legend">
<rect x="1187" y="1039" width="127" height="120" fill="#fff" stroke="#999" stroke-width="1"/>
<circle cx="1250" cy="1059" r="12.5" fill="none" stroke="#999" stroke-width="0.8"/>
<circle cx="1250" cy="1067" r="4.5" fill="none" stroke="#999" stroke-width="0.8"/>
<text class="lg" x="1250" y="1063" font-size="15.4" text-anchor="middle">10 samples</text>
<text class="lg" x="1250" y="1086" font-size="15.4" text-anchor="middle">1 sample</text>
<circle class="r" cx="1197" cy="1100" r="4"/>
<text class="lg" x="1207" y="1119" font-size="25.5">Mongolia</text>
<circle class="g" cx="1197" cy="1129" r="4"/>
<text class="lg" x="1207" y="1148" font-size="25.5">China</text>
</g>
</svg>
